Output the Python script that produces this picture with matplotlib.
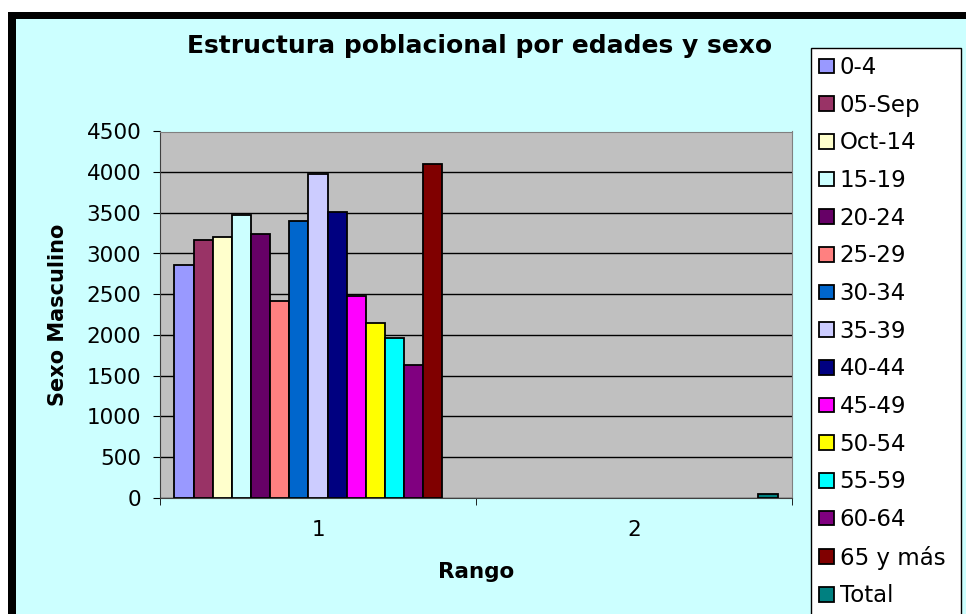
import numpy as np
import matplotlib
matplotlib.use('Agg')
import matplotlib.pyplot as plt
from matplotlib.patches import Rectangle

# data (two categories on the x axis)
categories = ['1', '2']
age_groups = ['0-4', '05-Sep', 'Oct-14', '15-19', '20-24', '25-29', '30-34', '35-39',
              '40-44', '45-49', '50-54', '55-59', '60-64', '65 y más', 'Total']
rango_1 = [2860, 3170, 3200, 3470, 3240, 2420, 3405, 3980, 3510, 2480, 2140, 1955, 1635, 4100, 0]
rango_2 = [0, 0, 0, 0, 0, 0, 0, 0, 0, 0, 0, 0, 0, 0, 40]
bar_colors = ['#9999FF', '#993366', '#FFFFCC', '#CCFFFF', '#660066', '#FF8080', '#0066CC',
              '#CCCCFF', '#000080', '#FF00FF', '#FFFF00', '#00FFFF', '#800080', '#800000',
              '#008080']
y_ticks = [0, 500, 1000, 1500, 2000, 2500, 3000, 3500, 4000, 4500]

W, H = 966, 614
fig = plt.figure(figsize=(W / 100, H / 100), dpi=100)
fig.patch.set_facecolor('white')

# black frame + cyan chart area (excel style)
fig.patches.append(Rectangle((8 / W, 0), 1, 1 - 12 / H, transform=fig.transFigure,
                             facecolor='black', edgecolor='none', zorder=-2))
fig.patches.append(Rectangle((16 / W, 0), 1, 1 - 19 / H, transform=fig.transFigure,
                             facecolor='#CCFFFF', edgecolor='none', zorder=-1))

ax = fig.add_axes([160 / W, 1 - 497.5 / H, 632 / W, 366 / H])
ax.set_facecolor('#C0C0C0')

x = np.arange(1, len(categories) + 1)
n = len(age_groups)
w = 1 / (n + 1.5)
values = np.array([rango_1, rango_2]).T

handles = []
for i, (name, col) in enumerate(zip(age_groups, bar_colors)):
    vals = values[i]
    keep = vals > 0
    b = ax.bar(x[keep] + (i - (n - 1) / 2) * w, vals[keep], width=w, color=col,
               edgecolor='black', linewidth=1.3, label=name, zorder=3)
    handles.append(b)

ax.set_xlim(0.5, 2.5)
ax.set_ylim(0, 4500)
ax.set_yticks(y_ticks)
ax.yaxis.grid(True, color='black', linewidth=1)
ax.set_axisbelow(True)

ax.set_xticks(x)
ax.set_xticklabels(categories)
ax.set_xticks([0.5, 1.5, 2.5], minor=True)
ax.tick_params(axis='x', which='major', length=0, pad=16, labelsize=15.5)
ax.tick_params(axis='x', which='minor', length=5, direction='out', color='black')
ax.tick_params(axis='y', length=5, direction='out', pad=8.5, labelsize=15.5, color='black')

for s in ['top', 'right']:
    ax.spines[s].set_color('#808080')
for s in ['left', 'bottom']:
    ax.spines[s].set_color('#404040')

ax.set_ylabel('Sexo Masculino', fontsize=15, fontweight='bold')
ax.yaxis.set_label_coords(-0.145, 0.5)
ax.set_xlabel('Rango', fontsize=15.5, fontweight='bold')
ax.xaxis.set_label_coords(0.5, -0.176)

fig.text(480 / W, 1 - 46 / H, 'Estructura poblacional por edades y sexo',
         ha='center', va='center', fontsize=18, fontweight='bold')

leg = ax.legend(handles=handles, loc='upper left',
                bbox_to_anchor=(811 / W, 0, 150 / W, 1 - 48 / H), mode='expand',
                bbox_transform=fig.transFigure, borderaxespad=0, fontsize=16.5,
                fancybox=False, framealpha=1, edgecolor='black', facecolor='white',
                handlelength=0.65, handleheight=0.6, handletextpad=0.25,
                labelspacing=0.64, borderpad=0.35)
leg.get_frame().set_linewidth(1)

fig.savefig('out.png', dpi=100, facecolor=fig.get_facecolor())
